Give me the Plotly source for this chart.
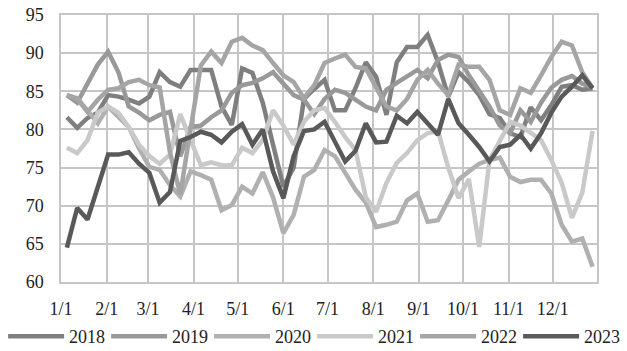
import plotly.graph_objects as go
import pandas as pd

# weekly observation dates (plotted on a common Jan-Dec axis)
week_dates = pd.date_range("2023-01-05", periods=52, freq="7D")

s2018 = [81.6, 80.2, 81.5, 82.2, 84.5, 84.3, 83.9, 83.4, 84.3, 87.5,
         86.2, 85.6, 87.8, 87.8, 87.8, 83.0, 80.6, 88.0, 87.4, 83.5,
         78.2, 72.5, 75.0, 84.0, 85.3, 86.5, 82.5, 82.5, 85.4, 88.8,
         86.9, 81.9, 88.8, 90.8, 90.8, 92.4, 88.8, 84.3, 87.5, 86.2,
         84.5, 82.0, 81.5, 79.5, 79.0, 82.9, 81.2, 83.2, 85.6, 85.8,
         85.2, 85.4]
s2019 = [84.5, 83.5, 86.0, 88.5, 90.2, 87.5, 83.0, 82.2, 81.2, 81.9,
         82.3, 76.5, 80.3, 80.5, 81.6, 82.5, 84.8, 85.8, 86.1, 86.7,
         87.5, 86.0, 84.5, 83.9, 82.0, 84.0, 85.2, 84.8, 83.9, 83.0,
         82.5, 85.2, 86.1, 87.0, 87.8, 86.7, 89.1, 89.8, 89.5, 87.1,
         85.0, 83.0, 80.5, 79.5, 82.5, 81.0, 83.5, 85.5, 86.5, 87.0,
         86.0, 85.5]
s2020 = [84.5, 84.1, 82.5, 80.8, 83.0, 81.6, 80.3, 77.5, 75.1, 74.7,
         72.7, 71.2, 74.5, 74.0, 73.4, 69.4, 70.1, 72.5, 71.6, 74.4,
         71.1, 66.4, 68.8, 73.8, 74.7, 77.3, 76.5, 74.3, 72.1, 70.4,
         67.2, 67.5, 67.9, 70.7, 71.6, 67.9, 68.1, 70.7, 73.4, 74.5,
         75.5, 76.0, 76.3, 73.8, 73.1, 73.4, 73.4, 71.6, 67.5, 65.3,
         65.7, 62.0]
s2021 = [77.6, 76.9, 78.6, 82.2, 83.0, 82.2, 80.3, 78.0, 76.5, 75.5,
         76.7, 82.0, 78.6, 75.3, 75.7, 75.3, 75.3, 77.6, 76.9, 78.6,
         82.5, 80.5, 78.0, 81.0, 82.5, 82.8, 81.0, 79.0, 77.3, 71.1,
         69.2, 73.0, 75.6, 76.9, 78.6, 79.5, 79.8, 75.0, 71.0, 73.5,
         64.6, 76.0, 78.5, 81.0, 80.5, 79.5, 78.6, 76.0, 73.0, 68.4,
         71.7, 79.8]
s2022 = [84.5, 84.0, 82.3, 83.9, 85.2, 85.4, 86.2, 86.5, 85.8, 85.5,
         77.0, 71.5, 80.0, 88.4, 90.2, 88.7, 91.5, 92.0, 91.0, 90.4,
         88.7, 87.1, 86.2, 84.1, 85.8, 88.7, 89.3, 89.8, 88.2, 88.0,
         85.5, 83.0, 82.5, 84.0, 86.5, 87.8, 86.0, 84.5, 88.5, 88.2,
         88.2, 86.5, 82.5, 81.9, 85.4, 84.8, 87.1, 89.5, 91.5, 91.0,
         87.5, 85.4]
s2023 = [64.5, 69.7, 68.2, 72.5, 76.7, 76.7, 77.0, 75.5, 74.3, 70.4,
         71.8, 78.5, 79.0, 79.7, 79.3, 78.3, 79.7, 80.7, 78.0, 80.0,
         74.5, 71.0, 76.5, 79.8, 80.0, 81.0, 78.5, 75.8, 77.2, 80.8,
         78.3, 78.4, 81.8, 80.8, 82.3, 80.8, 79.3, 84.0, 80.8, 79.3,
         77.7, 75.8, 77.7, 78.0, 79.3, 77.5, 79.5, 82.2, 84.3, 85.6,
         87.1, 85.4]

series_names = ["2018", "2019", "2020", "2021", "2022", "2023"]
series_values = [s2018, s2019, s2020, s2021, s2022, s2023]
series_colors = ["#7f7f7f", "#999999", "#b0b0b0", "#c9c9c9", "#a5a5a5", "#595959"]
legend_slots = ["legend", "legend", "legend", "legend2", "legend2", "legend2"]

month_ticks = pd.date_range("2023-01-01", periods=12, freq="MS")
month_labels = ["1/1", "2/1", "3/1", "4/1", "5/1", "6/1",
                "7/1", "8/1", "9/1", "10/1", "11/1", "12/1"]
y_ticks = [60, 65, 70, 75, 80, 85, 90, 95]

FONT = "Liberation Serif, Times New Roman, DejaVu Serif, serif"

fig = go.Figure()
for name, vals, col, lg in zip(series_names, series_values, series_colors, legend_slots):
    fig.add_trace(go.Scatter(x=week_dates, y=vals, name=name, mode="lines",
                             legend=lg, line=dict(color=col, width=4.5)))

legend_common = dict(orientation="h", yanchor="top", y=-0.135, xanchor="left",
                     font=dict(family=FONT, size=18, color="#222222"),
                     itemwidth=56, entrywidth=32, entrywidthmode="pixels",
                     tracegroupgap=0, bgcolor="rgba(0,0,0,0)", borderwidth=0)

grid = "#c6c6c6"
fig.update_layout(
    width=627, height=351,
    margin=dict(l=61, r=30, t=15, b=69, autoexpand=False),
    paper_bgcolor="white", plot_bgcolor="white",
    font=dict(family=FONT, size=18, color="#222222"),
    showlegend=True,
    legend=dict(x=-0.108, **legend_common),
    legend2=dict(x=0.4685, **legend_common),
)
fig.update_xaxes(type="date", range=["2023-01-01", "2023-12-31"],
                 tickvals=month_ticks, ticktext=month_labels,
                 showgrid=True, gridcolor=grid, gridwidth=1.5,
                 showline=True, linecolor=grid, linewidth=1.5, mirror=True,
                 ticks="", ticklabelstandoff=10, zeroline=False)
fig.update_yaxes(range=[60, 95], tickvals=y_ticks,
                 showgrid=True, gridcolor=grid, gridwidth=1.5,
                 showline=True, linecolor=grid, linewidth=1.5, mirror=True,
                 ticks="", ticklabelstandoff=12, zeroline=False)

fig.write_html("out.html")
